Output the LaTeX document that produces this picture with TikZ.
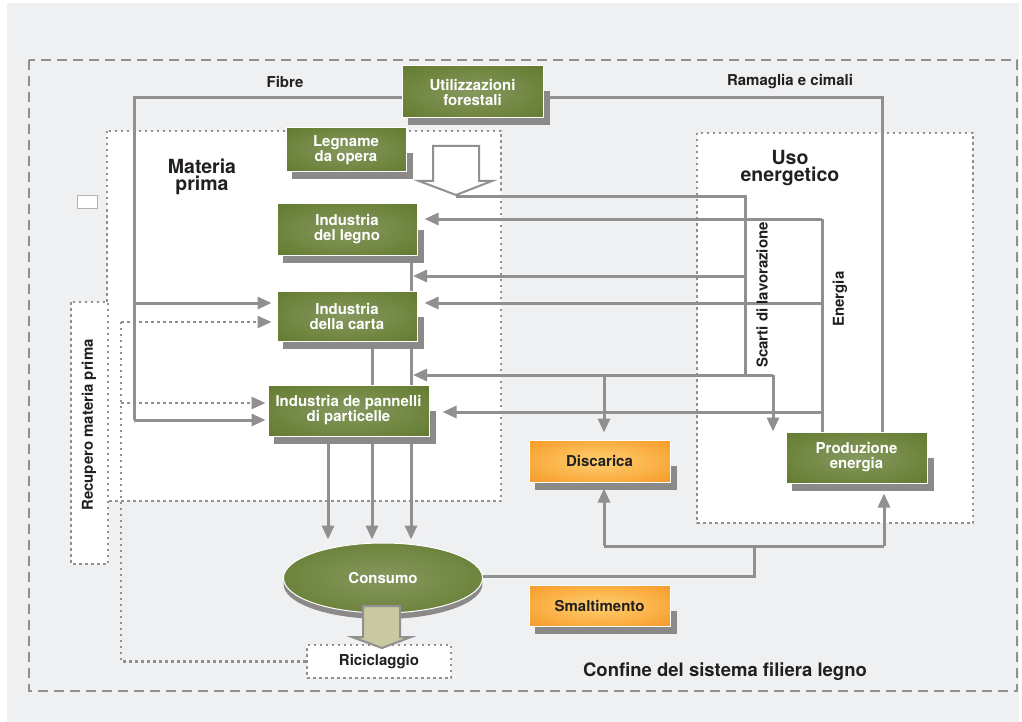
\documentclass[tikz,border=0pt]{standalone}
\usepackage{fontspec}
\setmainfont{TeX Gyre Heros}
\usepackage{xcolor}
\usepackage{tikz}
\usetikzlibrary{shapes.geometric, arrows.meta, positioning, calc}

\definecolor{bggray}{RGB}{239,240,242}
\definecolor{linegray}{RGB}{145,143,143}
\definecolor{shadowgray}{RGB}{140,137,137}
\definecolor{greendark}{RGB}{92,118,38}
\definecolor{greenlight}{RGB}{134,152,94}
\definecolor{orangedark}{RGB}{247,147,30}
\definecolor{orangelight}{RGB}{254,208,112}
\definecolor{textdark}{RGB}{35,31,32}
\definecolor{arrowfill}{RGB}{200,201,160}

\pgfdeclareradialshading{greenglow}{\pgfpoint{0bp}{0bp}}{color(0bp)=(greenlight); color(42bp)=(greendark); color(50bp)=(greendark)}
\pgfdeclareradialshading{orangeglow}{\pgfpoint{0bp}{0bp}}{color(0bp)=(orangelight); color(40bp)=(orangedark); color(50bp)=(orangedark)}

\pgfdeclarelayer{back}
\pgfdeclarelayer{shade}
\pgfsetlayers{back,shade,main}

\newcommand{\diagfont}{\bfseries\fontsize{15}{15}\selectfont}
\newcommand{\zonefont}{\bfseries\fontsize{19.5}{16.5}\selectfont}
\newcommand{\confinefont}{\bfseries\fontsize{18.5}{20}\selectfont}

\tikzstyle{greenbox} = [rectangle, draw=white, line width=1pt, shading=greenglow, text=white, font=\diagfont, align=center, inner sep=0pt]
\tikzstyle{orangebox} = [rectangle, draw=white, line width=1pt, shading=orangeglow, text=textdark, font=\diagfont, align=center, inner sep=0pt]
\tikzstyle{dotbox} = [rectangle, draw=linegray, fill=white, line width=2.5pt, dash pattern=on 2.5pt off 3.5pt, text=textdark, inner sep=0pt]
\tikzstyle{zone} = [draw=linegray, fill=white, line width=2.5pt, dash pattern=on 2.5pt off 3.5pt]
\tikzstyle{border} = [draw=linegray, line width=2.5pt, dash pattern=on 10pt off 6pt]
\tikzstyle{lbltext} = [text=textdark, font=\diagfont, align=center, inner sep=0pt]
\tikzstyle{zonetext} = [text=textdark, font=\zonefont, align=center, inner sep=0pt]
\tikzstyle{link} = [draw=linegray, line width=3pt]
\tikzstyle{linkarrow} = [link, -{Triangle[length=14pt,width=12pt]}]
\tikzstyle{recycle} = [draw=linegray, line width=2.5pt, dash pattern=on 2.5pt off 3.5pt]
\tikzstyle{recyclearrow} = [recycle, -{Triangle[length=14pt,width=12pt]}]
\tikzstyle{hollow} = [draw=linegray, line width=2pt, line join=miter]

\begin{document}
\begin{tikzpicture}[x=1pt, y=-1pt]
\useasboundingbox (0,0) rectangle (1022,722);

% boxes
\node[greenbox, minimum width=141pt, minimum height=52pt] (util) at (472.5,92) {Utilizzazioni\\forestali};
\node[greenbox, minimum width=120pt, minimum height=44pt] (legname) at (346,150) {Legname\\da opera};
\node[greenbox, minimum width=140pt, minimum height=51pt] (legno) at (347,229.5) {Industria\\del legno};
\node[greenbox, minimum width=140pt, minimum height=50pt] (carta) at (347,316) {Industria\\della carta};
\node[greenbox, minimum width=161pt, minimum height=51pt] (pannelli) at (348.5,410.5) {Industria de pannelli\\di particelle};
\node[greenbox, minimum width=141pt, minimum height=51pt] (produzione) at (856.5,457.5) {Produzione\\energia};
\node[orangebox, minimum width=141pt, minimum height=42pt] (discarica) at (599.5,461) {Discarica};
\node[orangebox, minimum width=141pt, minimum height=41pt] (smaltimento) at (599.5,605.5) {Smaltimento};
\node[greenbox, ellipse, minimum width=199pt, minimum height=70pt] (consumo) at (383,578) {Consumo};
\node[dotbox, minimum width=144pt, minimum height=33pt, font=\diagfont] (riciclaggio) at (379,661.5) {Riciclaggio};

% labels
\node[lbltext] (fibre) at (285,82) {Fibre};
\node[lbltext] (ramaglia) at (790,82) {Ramaglia e cimali};
\node[zonetext] (materia) at (202,177) {Materia\\prima};
\node[zonetext] (uso) at (790,168) {Uso\\energetico};
\node[lbltext, rotate=90] (scarti) at (762,295) {Scarti di lavorazione};
\node[lbltext, rotate=90] (energia) at (840,299) {Energia};
\node[lbltext, rotate=90] (recupero) at (89,425) {Recupero materia prima};
\node[lbltext, font=\confinefont] (confine) at (725,672) {Confine del sistema filiera legno};

% hollow arrows
\draw[hollow, fill=white] (433,146) -- (479,146) -- (479,181) -- (492,181) -- (456,195) -- (419,181) -- (433,181) -- cycle;
\draw[hollow, fill=arrowfill] (363,606) -- (400,606) -- (400,637) -- (411,637) -- (382,648) -- (352,637) -- (363,637) -- cycle;

% junctions
\coordinate (legtip) at (456,197);
\coordinate (fb1) at (134,303);
\coordinate (fb2) at (134,420);
\coordinate (en1) at (822,219);
\coordinate (en2) at (822,303);
\coordinate (en3) at (822,412);
\coordinate (sc1) at (745,197);
\coordinate (sc2) at (745,276);
\coordinate (sc3) at (745,375);
\coordinate (sc4) at (773,375);
\coordinate (sc5) at (604,375);
\coordinate (cj) at (754,546);
\coordinate (cd) at (604,546);
\coordinate (cp) at (884,546);
\coordinate (rc1) at (121,322);
\coordinate (rc2) at (121,403);
\coordinate (trunk) at ([xshift=-6pt]legno.south east);

\begin{pgfonlayer}{back}
\fill[bggray] (7,3) rectangle (1019,722);
\draw[border] (29,60) rectangle (1017,691);
\draw[zone] (107,131) rectangle (501,501);
\draw[zone] (697,133) rectangle (973,523);
\draw[zone] (71,302) rectangle (108,564);
\draw[draw=linegray!70, fill=white, line width=1pt] (77,196) rectangle (97,208);

% Fibre
\draw[link] ([shift={(0,6)}]util.west) -| (fb2);
\draw[linkarrow, shorten >=2pt] (fb2) -- (fb2 -| pannelli.west);
\draw[linkarrow, shorten >=5pt] (fb1) -- (fb1 -| carta.west);
% Ramaglia e cimali
\draw[link] ([shift={(0,6)}]util.east) -| ([xshift=25.5pt]produzione.north);
% Energia
\draw[link] (en1) -- (en1 |- produzione.north);
\draw[linkarrow, shorten >=7pt] (en1) -- (en1 -| legno.east);
\draw[linkarrow, shorten >=7pt] (en2) -- (en2 -| carta.east);
\draw[linkarrow, shorten >=13pt] (en3) -- (en3 -| pannelli.east);
% Scarti di lavorazione
\draw[link] (legtip) -- (sc1) -- (sc3);
\draw[linkarrow, shorten >=1.5pt] (sc2) -- (sc2 -| trunk);
\draw[linkarrow, shorten >=1.5pt] (sc4) -- (sc4 -| trunk);
\draw[linkarrow] (sc4) -- (sc4 |- produzione.north);
\draw[linkarrow, shorten >=7pt] (sc5) -- (sc5 |- discarica.north);
% industrie
\draw[link] (trunk) -- (trunk |- carta.north);
\draw[link] (trunk |- carta.south) -- (trunk |- pannelli.north);
\draw[link] ([xshift=25pt]carta.south) -- ([xshift=25pt]carta.south |- pannelli.north);
\foreach \dx in {-20.5pt,23.5pt,62.5pt}
  \draw[linkarrow, shorten >=3pt] ([xshift=\dx]pannelli.south) -- ([xshift=\dx]pannelli.south |- consumo.north);
% Consumo
\draw[link] ([shift={(0,-2)}]consumo.east) -| (cj);
\draw[link] (cd) -- (cp);
\draw[linkarrow, shorten >=6pt] (cd) -- (cd |- discarica.south);
\draw[linkarrow, shorten >=10pt] (cp) -- (cp |- produzione.south);
% Riciclaggio
\draw[recycle] (riciclaggio.west) -| (rc1);
\draw[recyclearrow, shorten >=5pt] (rc1) -- (rc1 -| carta.west);
\draw[recyclearrow, shorten >=2pt] (rc2) -- (rc2 -| pannelli.west);
\end{pgfonlayer}

\begin{pgfonlayer}{shade}
\foreach \n in {util,legname,legno,carta,pannelli,produzione,discarica,smaltimento}
  \fill[shadowgray] ([shift={(6,26)}]\n.north west) rectangle ([shift={(6,7)}]\n.south east);
\fill[shadowgray] ([shift={(0,6)}]consumo.center) ellipse [x radius=99.5pt, y radius=35pt];
\end{pgfonlayer}
\end{tikzpicture}
\end{document}
